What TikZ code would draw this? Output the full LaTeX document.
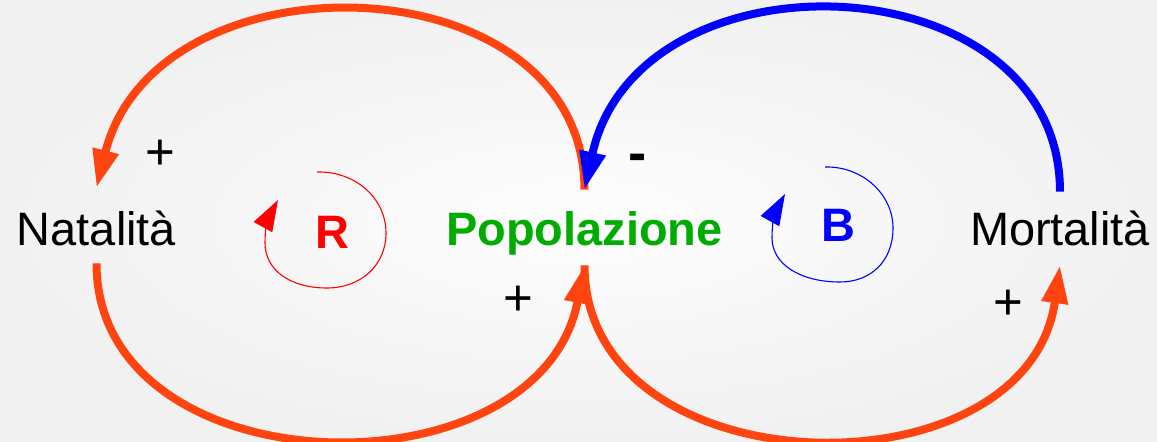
\documentclass[tikz,border=0pt]{standalone}
\usepackage{fontspec}
\setmainfont{Liberation Sans}
\usetikzlibrary{arrows.meta}
\definecolor{loopred}{RGB}{255,68,16}
\definecolor{loopblue}{RGB}{0,0,255}
\definecolor{popgreen}{RGB}{0,172,0}
\definecolor{bgin}{RGB}{253,253,253}
\definecolor{bgout}{RGB}{241,241,241}
\tikzset{
  bigarc/.style={line width=0.16cm, -{Triangle[length=0.76cm,width=0.5cm]}},
  smallarc/.style={line width=0.022cm, -{Triangle[length=0.62cm,width=0.42cm]}},
  varnode/.style={inner sep=0pt, text depth=0pt, font=\fontsize{26.7}{32}\selectfont},
  loopletter/.style={inner sep=0pt, anchor=base, font=\fontsize{26.7}{32}\selectfont\bfseries},
  sign/.style={inner sep=0pt, anchor=base, font=\fontsize{29}{34}\selectfont}
}
\begin{document}
\begin{tikzpicture}[x=0.02cm,y=-0.02cm]
\useasboundingbox (0,0) rectangle (1157,442);
\shade[inner color=bgin, outer color=bgout] (0,0) rectangle (1157,442);

% variable nodes
\node[varnode, text height=0.82cm, minimum height=1.5cm] (nat) at (96.5,225.5) {Natalità};
\node[varnode, text height=0.74cm, minimum height=1.5cm, text=popgreen, font=\fontsize{26.7}{32}\selectfont\bfseries] (pop) at (584.5,227.5) {Popolazione};
\node[varnode, text height=0.70cm, minimum height=1.46cm] (mor) at (1060,228.5) {Mortalità};

% big causal arcs
\draw[bigarc, loopred] (pop.north) .. controls +(0,-230) and +(60,-240) .. (nat.north);
\draw[bigarc, loopblue] (mor.north) .. controls +(0,-232) and +(54,-246) .. (pop.north);
\draw[bigarc, loopred] (nat.south) .. controls +(0,227) and +(-45,235) .. (pop.south);
\draw[bigarc, loopred] (pop.south) .. controls +(0,225) and +(-33,235) .. (mor.south);

% polarity signs
\node[sign] (p1) at (160,170) {+};
\node[sign, font=\fontsize{31}{36}\selectfont\bfseries] (m1) at (638,171.5) {-};
\node[sign] (p2) at (518,316) {+};
\node[sign] (p3) at (1008,320) {+};

% loop identifiers
\node[loopletter, text=red] (R) at (332.5,249) {R};
\node[loopletter, text=loopblue] (B) at (838,242) {B};

\draw[smallarc, red] (317,172) .. controls (355,171) and (386,198) .. (386,233)
  .. controls (386,266) and (360,288) .. (327,288)
  .. controls (290,288) and (265,270) .. (265,243)
  .. controls (265,228) and (268,218) .. (278,200);
\draw[smallarc, loopblue] (825,167) .. controls (862,166) and (893,194) .. (893,228)
  .. controls (893,262) and (870,282) .. (840,282)
  .. controls (800,282) and (772,264) .. (772,238)
  .. controls (772,223) and (775,212) .. (785,194);
\end{tikzpicture}
\end{document}
